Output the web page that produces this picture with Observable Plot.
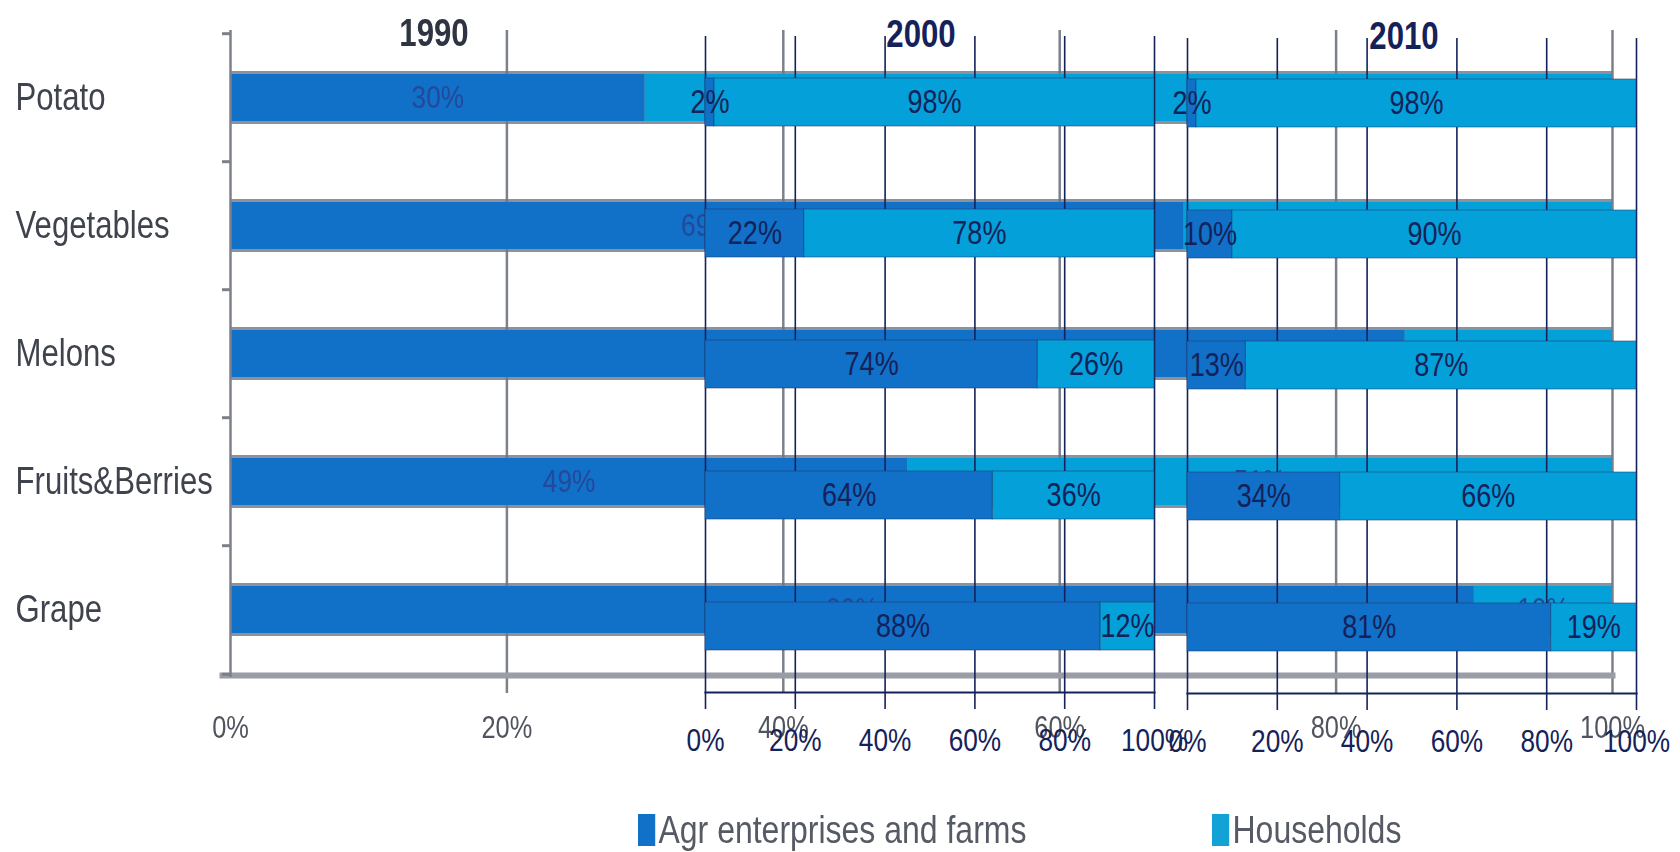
<!DOCTYPE html>
<html>
<head>
<meta charset="utf-8">
<script src="https://cdn.jsdelivr.net/npm/d3@7"></script>
<script src="https://cdn.jsdelivr.net/npm/@observablehq/plot@0.6"></script>
<style>
  html, body { margin: 0; padding: 0; background: #fff; }
  #page { position: relative; width: 1680px; height: 852px; overflow: hidden; background: #fff;
          font-family: "Liberation Sans", Arial, sans-serif; }
  #page svg { position: absolute; left: 0; top: 0; }
  .title { position: absolute; font-weight: bold; font-size: 38px; line-height: 1; transform: translate(-50%, -50%) scaleX(0.82); white-space: nowrap; }
  .legend { position: absolute; top: 810px; display: flex; align-items: center; font-size: 39px; line-height: 1; color: #555a64; white-space: nowrap; transform: scaleX(0.82); transform-origin: 0 50%; }
  .legend .sw { width: 21px; height: 32px; margin-right: 4px; filter: blur(0.6px); }
</style>
</head>
<body>
<div id="page"></div>
<script>
// ---- data ----
const categories = ["Potato", "Vegetables", "Melons", "Fruits&Berries", "Grape"];
const seriesNames = ["Agr enterprises and farms", "Households"];
const years = ["1990", "2000", "2010"];
const agr1990 = [30, 69, 85, 49, 90];
const hh1990  = [70, 31, 15, 51, 10];
const agr2000 = [2, 22, 74, 64, 88];
const hh2000  = [98, 78, 26, 36, 12];
const agr2010 = [2, 10, 13, 34, 81];
const hh2010  = [98, 90, 87, 66, 19];
const xTicks = [0, 20, 40, 60, 80, 100];
const tickLabels = ["0%", "20%", "40%", "60%", "80%", "100%"];

// ---- styles ----
const DARK = "#1170c8", LIGHT = "#03a0d9", NAVY = "#15225a", GREY = "#7c8089";
const FONT = '"Liberation Sans", Arial, sans-serif';
const SQUEEZE = 0.82;

function rowsOf(agr, hh) {
  const rows = [];
  categories.forEach((c, i) => {
    rows.push({category: c, series: seriesNames[0], value: agr[i]});
    rows.push({category: c, series: seriesNames[1], value: hh[i]});
  });
  return rows;
}

// condense all svg texts horizontally (the reference uses a narrow face)
function condense(svg) {
  svg.querySelectorAll("text").forEach(t => {
    const tr = t.getAttribute("transform");
    if (tr) t.setAttribute("transform", tr + ` scale(${SQUEEZE},1)`);
    else {
      const x = +t.getAttribute("x") || 0, y = +t.getAttribute("y") || 0;
      t.setAttribute("transform", `translate(${x},${y}) scale(${SQUEEZE},1) translate(${-x},${-y})`);
    }
  });
  return svg;
}

const page = document.getElementById("page");
const W = 1680, H = 770;

// ---- 1990 (background chart) ----
const r1990 = rowsOf(agr1990, hh1990);
const step90 = (675 - 32) / categories.length;
const p1990 = Plot.plot({
  width: W, height: H,
  marginLeft: 230, marginRight: 68, marginTop: 32, marginBottom: H - 675,
  style: {background: "transparent", fontFamily: FONT, overflow: "visible"},
  x: {domain: [0, 100], axis: null},
  y: {domain: categories, axis: null, paddingInner: 0.63, paddingOuter: 0.315},
  color: {domain: seriesNames, range: [DARK, LIGHT]},
  marks: [
    Plot.ruleX(xTicks.slice(1), {stroke: GREY, strokeWidth: 2.5, insetTop: -2, insetBottom: -18}),
    Plot.frame({anchor: "bottom", stroke: "#9a9ca6", strokeWidth: 6, insetLeft: -8}),
    Plot.barX(categories, {x1: 0, x2: (d, i) => agr1990[i] + hh1990[i], y: d => d, fill: "#6f7683", insetTop: -3, insetBottom: -3, fillOpacity: 0.8}),
    Plot.barX(r1990, Plot.stackX({x: "value", y: "category", fill: "series", order: null})),
    Plot.text(r1990, Plot.stackX({x: "value", y: "category", z: "series", order: null,
      text: d => d.value + "%", fill: "#24489a", fontSize: 32})),
    Plot.ruleX([0], {stroke: GREY, strokeWidth: 2.5, insetTop: -2, insetBottom: -2}),
    Plot.ruleY(categories, {y: d => d, dy: -step90 / 2, x1: 0, x2: 0, insetLeft: -8, stroke: GREY, strokeWidth: 3}),
    Plot.ruleY([categories[categories.length - 1]], {y: d => d, dy: step90 / 2, x1: 0, x2: 0, insetLeft: -8, stroke: GREY, strokeWidth: 3}),
    Plot.text(categories, {y: d => d, frameAnchor: "left", textAnchor: "start", lineAnchor: "middle", dx: -215, text: d => d, fill: "#3f434d", fontSize: 38}),
    Plot.text(xTicks, {x: d => d, frameAnchor: "bottom", lineAnchor: "middle", dy: 53, text: (d, i) => tickLabels[i], fill: "#50545e", fontSize: 31})
  ]
});
condense(p1990);
p1990.style.filter = "blur(0.7px)";
page.appendChild(p1990);

// ---- 2000 / 2010 overlay charts ----
function overlay(agr, hh, left, right, top, bottom) {
  const rows = rowsOf(agr, hh);
  return condense(Plot.plot({
    width: W, height: H,
    marginLeft: left, marginRight: W - right, marginTop: top, marginBottom: H - bottom,
    style: {background: "transparent", fontFamily: FONT, overflow: "visible"},
    x: {domain: [0, 100], axis: null},
    y: {domain: categories, axis: null, paddingInner: 0.63, paddingOuter: 0.315},
    color: {domain: seriesNames, range: [DARK, LIGHT]},
    marks: [
      Plot.ruleX(xTicks, {stroke: NAVY, strokeWidth: 1.6, insetBottom: -17}),
      Plot.barX(rows, Plot.stackX({x: "value", y: "category", fill: "series", order: null,
        stroke: "#1d3c70", strokeWidth: 1, strokeOpacity: 0.55})),
      Plot.text(rows, Plot.stackX({x: "value", y: "category", z: "series", order: null,
        text: d => d.value + "%", fill: NAVY, fontSize: 33})),
      Plot.frame({anchor: "bottom", stroke: NAVY, strokeWidth: 2.2}),
      Plot.text(xTicks, {x: d => d, frameAnchor: "bottom", lineAnchor: "middle", dy: 48, text: (d, i) => tickLabels[i], fill: NAVY, fontSize: 32})
    ]
  }));
}
page.appendChild(overlay(agr2000, hh2000, 705, 1154, 36, 692));
page.appendChild(overlay(agr2010, hh2010, 1187, 1636, 38, 693));

// ---- titles ----
const titleSpec = [
  {text: years[0], x: 434, y: 33, color: "#2f3442", blur: true},
  {text: years[1], x: 921, y: 34, color: NAVY},
  {text: years[2], x: 1404, y: 36, color: NAVY}
];
titleSpec.forEach(t => {
  const d = document.createElement("div");
  d.className = "title";
  d.textContent = t.text;
  d.style.left = t.x + "px"; d.style.top = t.y + "px"; d.style.color = t.color;
  if (t.blur) d.style.filter = "blur(0.6px)";
  page.appendChild(d);
});

// ---- legend ----
const legendPos = [638, 1212];
seriesNames.forEach((name, i) => {
  const item = document.createElement("div");
  item.className = "legend";
  item.style.left = legendPos[i] + "px";
  const sw = document.createElement("div");
  sw.className = "sw";
  sw.style.background = i === 0 ? DARK : "#12a2d6";
  const tx = document.createElement("span");
  tx.textContent = name;
  item.appendChild(sw); item.appendChild(tx);
  page.appendChild(item);
});
</script>
</body>
</html>
